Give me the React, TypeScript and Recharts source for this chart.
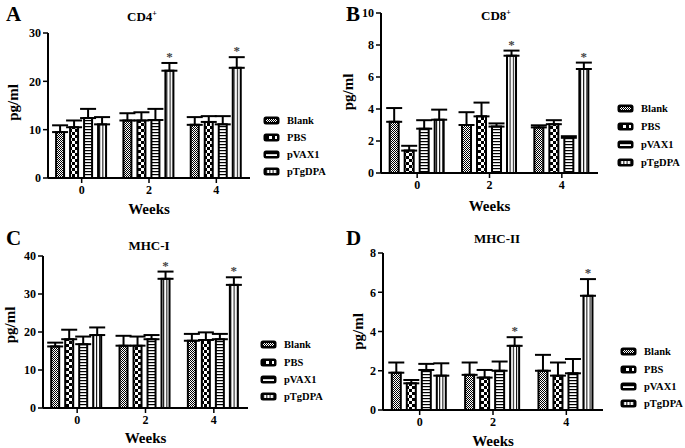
import React from 'react'
import { BarChart, Bar, XAxis, YAxis, ErrorBar } from 'recharts'

const FONT = '"Liberation Serif", "Times New Roman", serif'

const WEEKS = ['0', '2', '4']
const GROUPS = ['Blank', 'PBS', 'pVAX1', 'pTgDPA']
const STAR = [false, true, true]

// rows = weeks, columns = Blank, PBS, pVAX1, pTgDPA
const CD4_MEAN = [[9.5, 10.5, 12.4, 11.1], [11.9, 11.9, 12.0, 22.2], [11.0, 11.6, 11.1, 22.8]]
const CD4_SEM = [[1.4, 1.4, 1.9, 1.5], [1.5, 1.7, 2.3, 1.6], [1.6, 1.2, 1.7, 2.2]]
const CD4_TICKS = [0, 10, 20, 30]

const CD8_MEAN = [[3.2, 1.4, 2.77, 3.33], [3.0, 3.54, 2.9, 7.33], [2.85, 3.05, 2.2, 6.5]]
const CD8_SEM = [[0.86, 0.3, 0.53, 0.63], [0.8, 0.86, 0.2, 0.32], [0.13, 0.25, 0.1, 0.4]]
const CD8_TICKS = [0, 2, 4, 6, 8, 10]

const MHC1_MEAN = [[16.2, 18.1, 16.8, 19.2], [16.4, 16.4, 18.1, 34.0], [17.7, 17.9, 18.1, 32.4]]
const MHC1_SEM = [[1.0, 2.5, 2.0, 2.0], [2.6, 2.4, 1.1, 1.9], [1.8, 2.0, 1.4, 2.0]]
const MHC1_TICKS = [0, 10, 20, 30, 40]

const MHC2_MEAN = [[1.9, 1.36, 2.04, 1.75], [1.79, 1.65, 2.0, 3.27], [2.0, 1.75, 1.87, 5.82]]
const MHC2_SEM = [[0.52, 0.17, 0.31, 0.63], [0.63, 0.39, 0.47, 0.44], [0.81, 0.67, 0.73, 0.85]]
const MHC2_TICKS = [0, 2, 4, 6, 8]

const FILLS: Record<string, string> = {
  Blank: 'url(#pat-blank)',
  PBS: 'url(#pat-pbs)',
  pVAX1: 'url(#pat-pvax)',
  pTgDPA: 'url(#pat-ptg)',
}

function buildRows(mean: number[][], sem: number[][]) {
  return WEEKS.map((week, i) => {
    const row: any = { week, star: STAR[i] }
    GROUPS.forEach((g, j) => {
      row[g] = mean[i][j]
      row[g + '_err'] = [0, sem[i][j]]
      row[g + '_sem'] = sem[i][j]
    })
    return row
  })
}

function Patterns() {
  return (
    <svg width={0} height={0} style={{ position: 'absolute' }}>
      <defs>
        <pattern id="pat-blank" patternUnits="userSpaceOnUse" width={2} height={2}>
          <rect width={2} height={2} fill="#fff" />
          <rect width={1} height={1} fill="#000" />
          <rect x={1} y={1} width={1} height={1} fill="#000" />
        </pattern>
        <pattern id="pat-pbs" patternUnits="userSpaceOnUse" width={6} height={6}>
          <rect width={6} height={6} fill="#fff" />
          <rect width={3} height={3} fill="#000" />
          <rect x={3} y={3} width={3} height={3} fill="#000" />
        </pattern>
        <pattern id="pat-pvax" patternUnits="userSpaceOnUse" width={4} height={3}>
          <rect width={4} height={3} fill="#fff" />
          <rect width={4} height={1.2} fill="#000" />
        </pattern>
        <pattern id="pat-ptg" patternUnits="userSpaceOnUse" width={3.2} height={4}>
          <rect width={3.2} height={4} fill="#fff" />
          <rect width={1} height={4} fill="#000" />
        </pattern>
      </defs>
    </svg>
  )
}

function StarBar(props: any) {
  const { x, y, width, height, fill, payload } = props
  if (!height) return null
  const pxPerUnit = height / payload.pTgDPA
  const capY = y - payload.pTgDPA_sem * pxPerUnit
  return (
    <g>
      <rect x={x} y={y} width={width} height={height} fill={fill} stroke="#000" strokeWidth={2} />
      {payload.star && (
        <text x={x + width / 2} y={capY - 2} textAnchor="middle" fontSize={13}
          fill="#444" fontFamily={FONT} fontWeight="bold">*</text>
      )}
    </g>
  )
}

function Swatch({ fill }: { fill: string }) {
  return (
    <svg width={17} height={9} style={{ display: 'block', flex: 'none' }}>
      <rect x={0.5} y={0.5} width={16} height={8} rx={2.5} fill="#000" />
      <rect x={3} y={3} width={11} height={3} fill={fill} />
    </svg>
  )
}

interface PanelProps {
  left: number
  top: number
  letter: string
  title: string
  sup?: string
  rows: any[]
  ticks: number[]
  plot: { l: number; r: number; t: number; b: number }
  titleX: number
  titleY: number
  yLabelX: number
  yLabelDy: number
  weeksOffset: number
  legend: { x: number; y: number; step: number }
}

function Panel(p: PanelProps) {
  const W = 340
  const H = 224
  const text = { fontFamily: FONT, fontWeight: 'bold' as const, color: '#000' }
  return (
    <div style={{ position: 'absolute', left: p.left, top: p.top, width: W, height: H }}>
      <div style={{ ...text, position: 'absolute', left: 6, top: 2, fontSize: 21, lineHeight: '24px' }}>{p.letter}</div>
      <div style={{ ...text, position: 'absolute', left: p.titleX - 40, width: 80, top: p.titleY - 8,
        textAlign: 'center', fontSize: 13, lineHeight: '16px' }}>
        {p.title}{p.sup && <sup style={{ fontSize: 8, verticalAlign: 5 }}>{p.sup}</sup>}
      </div>
      <BarChart width={W} height={H} data={p.rows} barCategoryGap="12%" barGap={6}
        margin={{ top: p.plot.t, right: W - p.plot.r, bottom: 0, left: 0 }}>
        <XAxis dataKey="week" height={H - p.plot.b} tickSize={5}
          axisLine={{ stroke: '#000', strokeWidth: 2 }} tickLine={{ stroke: '#000', strokeWidth: 1.5 }}
          tick={{ fill: '#000', fontSize: 12, fontWeight: 'bold', fontFamily: FONT }}
          label={{ value: 'Weeks', position: 'insideBottom', offset: p.weeksOffset, fill: '#000',
            fontSize: 15, fontWeight: 'bold', fontFamily: FONT }} />
        <YAxis width={p.plot.l} domain={[p.ticks[0], p.ticks[p.ticks.length - 1]]} ticks={p.ticks}
          interval={0} tickSize={5} allowDataOverflow
          axisLine={{ stroke: '#000', strokeWidth: 2 }} tickLine={{ stroke: '#000', strokeWidth: 1.5 }}
          tick={{ fill: '#000', fontSize: 12, fontWeight: 'bold', fontFamily: FONT }}
          label={{ value: 'pg/ml', angle: -90, position: 'center', dx: p.yLabelX - p.plot.l / 2,
            dy: p.yLabelDy, fill: '#000', fontSize: 15, fontWeight: 'bold', fontFamily: FONT }} />
        {GROUPS.map((g) => (
          <Bar key={g} dataKey={g} fill={FILLS[g]} stroke="#000" strokeWidth={2}
            isAnimationActive={false} shape={g === 'pTgDPA' ? StarBar : undefined}>
            <ErrorBar dataKey={g + '_err'} width={8} strokeWidth={2} stroke="#000" direction="y" />
          </Bar>
        ))}
      </BarChart>
      <div style={{ position: 'absolute', left: p.legend.x, top: p.legend.y - p.legend.step / 2, whiteSpace: 'nowrap' }}>
        {GROUPS.map((g) => (
          <div key={g} style={{ display: 'flex', alignItems: 'center', height: p.legend.step, gap: 7 }}>
            <Swatch fill={FILLS[g]} />
            <span style={{ ...text, fontSize: 10.5 }}>{g}</span>
          </div>
        ))}
      </div>
    </div>
  )
}

export default function App() {
  return (
    <div style={{ position: 'absolute', left: 0, top: 0, width: 685, height: 448, background: '#fff', overflow: 'hidden' }}>
      <Patterns />
      <Panel left={0} top={0} letter="A" title="CD4" sup="+" rows={buildRows(CD4_MEAN, CD4_SEM)}
        ticks={CD4_TICKS} plot={{ l: 48, r: 250, t: 33, b: 178 }} titleX={142} titleY={14}
        yLabelX={12.5} yLabelDy={-3} weeksOffset={10} legend={{ x: 263, y: 120, step: 17 }} />
      <Panel left={340} top={0} letter="B" title="CD8" sup="+" rows={buildRows(CD8_MEAN, CD8_SEM)}
        ticks={CD8_TICKS} plot={{ l: 41, r: 258, t: 13, b: 173 }} titleX={156} titleY={13}
        yLabelX={8} yLabelDy={-1} weeksOffset={13} legend={{ x: 277, y: 108, step: 18 }} />
      <Panel left={0} top={224} letter="C" title="MHC-I" rows={buildRows(MHC1_MEAN, MHC1_SEM)}
        ticks={MHC1_TICKS} plot={{ l: 43, r: 248, t: 32, b: 184 }} titleX={149} titleY={22}
        yLabelX={10} yLabelDy={-7} weeksOffset={5} legend={{ x: 260, y: 121, step: 17.3 }} />
      <Panel left={340} top={224} letter="D" title="MHC-II" rows={buildRows(MHC2_MEAN, MHC2_SEM)}
        ticks={MHC2_TICKS} plot={{ l: 43, r: 263, t: 29, b: 186 }} titleX={157} titleY={15}
        yLabelX={18} yLabelDy={0} weeksOffset={2} legend={{ x: 280, y: 128, step: 17.3 }} />
    </div>
  )
}
